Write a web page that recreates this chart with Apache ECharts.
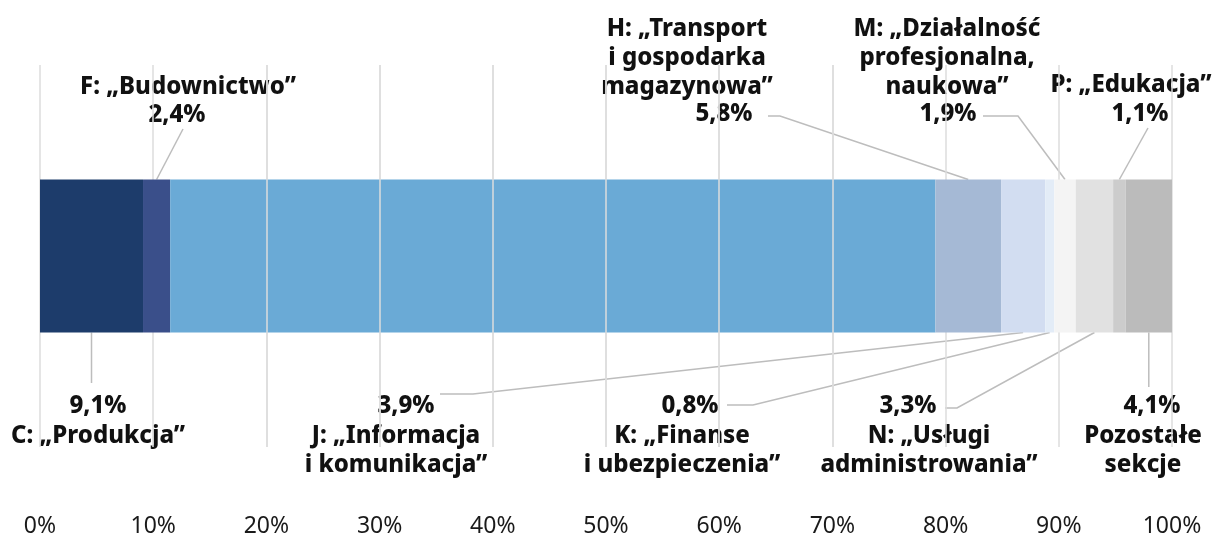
<!DOCTYPE html>
<html>
<head>
<meta charset="utf-8">
<script src="https://cdn.jsdelivr.net/npm/echarts@6/dist/echarts.min.js"></script>
<style>
  html, body { margin: 0; padding: 0; background: #fff; }
  #chart { width: 1212px; height: 538px; }
</style>
</head>
<body>
<div id="chart"></div>
<script>
// Sekcje PKD i ich udział (%)
const sections = [
    'C: „Produkcja”',
    'F: „Budownictwo”',
    'G: „Handel”',
    'H: „Transport\ni gospodarka\nmagazynowa”',
    'J: „Informacja\ni komunikacja”',
    'K: „Finanse\ni ubezpieczenia”',
    'M: „Działalność\nprofesjonalna,\nnaukowa”',
    'N: „Usługi\nadministrowania”',
    'P: „Edukacja”',
    'Pozostałe\nsekcje'
];
const shares = [9.1, 2.4, 67.6, 5.8, 3.9, 0.8, 1.9, 3.3, 1.1, 4.1];
const axisMin = 0;
const axisMax = 100;
const axisStep = 10;

const colors = ['#1d3c6b', '#3a4f8a', '#6aaad6', '#a5b9d5', '#d2ddf1',
                '#e3ecf7', '#f4f4f4', '#e1e1e1', '#cccccc', '#bbbbbb'];

// Rozmieszczenie podpisów (px): środek tytułu, środek wartości, punkty linii
const labelLayout = [
    { side: 'bottom', title: [98, 436],   value: [98, 406],   lead: 'v', leadEnd: 383 },
    { side: 'top',    title: [188, 87],   value: [177, 115],  lead: [[183, 129]] },
    { side: 'in',     title: [557, 237],  value: [575, 268],  lead: null },
    { side: 'top',    title: [687, 29],   value: [724, 114],  lead: [[768, 116], [780, 116]] },
    { side: 'bottom', title: [396, 436],  value: [406, 406],  lead: [[440, 394], [473, 394]] },
    { side: 'bottom', title: [682, 436],  value: [690, 406],  lead: [[727, 405], [753, 405]] },
    { side: 'top',    title: [947, 29],   value: [948, 114],  lead: [[983, 116], [1018, 116]] },
    { side: 'bottom', title: [929, 436],  value: [908, 406],  lead: [[945, 408], [957, 408]] },
    { side: 'top',    title: [1131, 85],  value: [1140, 114], lead: [[1148, 128]] },
    { side: 'bottom', title: [1143, 436], value: [1152, 406], lead: 'v', leadEnd: 387 }
];

const FONT = '"Noto Sans", "DejaVu Sans", sans-serif';
const BAR_W = 153;
const LINE_H = 29;

const chart = echarts.init(document.getElementById('chart'), null, { renderer: 'canvas' });

const fmt = v => v.toFixed(1).replace('.', ',') + '%';

// linie siatki widoczne na segmencie „Handel”
const gStart = shares.slice(0, 2).reduce((a, b) => a + b, 0);
const gEnd = gStart + shares[2];
const innerTicks = [];
for (let t = axisMin; t <= axisMax; t += axisStep) {
    if (t > gStart && t < gEnd) innerTicks.push({ xAxis: t });
}

const series = shares.map((v, i) => ({
    name: sections[i],
    type: 'bar',
    stack: 'total',
    barWidth: BAR_W,
    data: [v],
    itemStyle: { color: colors[i] },
    emphasis: { disabled: true },
    silent: true,
    markLine: i === 2 ? {
        silent: true,
        symbol: 'none',
        label: { show: false },
        lineStyle: { color: '#dddddd', width: 1.5, type: 'solid' },
        data: innerTicks
    } : undefined
}));

chart.setOption({
    animation: false,
    backgroundColor: '#ffffff',
    grid: { left: 40, right: 40, top: 65, bottom: 91, containLabel: false, outerBoundsMode: 'none' },
    xAxis: {
        type: 'value',
        min: axisMin,
        max: axisMax,
        interval: axisStep,
        z: 1,
        axisLine: { show: false },
        axisTick: { show: false },
        splitLine: { show: true, lineStyle: { color: '#dddddd', width: 1.5 } },
        axisLabel: {
            formatter: '{value}%',
            margin: 68,
            fontFamily: FONT,
            fontSize: 23,
            lineHeight: 23,
            color: '#1a1a1a'
        }
    },
    yAxis: {
        type: 'category',
        data: [''],
        show: false
    },
    series: series
});

// Podpisy i linie odniesienia
function drawLabels() {
    const yc = chart.convertToPixel({ gridIndex: 0 }, [0, 0])[1];
    const top = yc - BAR_W / 2;
    const bottom = yc + BAR_W / 2;
    const elements = [];
    let cum = 0;
    shares.forEach((v, i) => {
        const mid = chart.convertToPixel({ gridIndex: 0 }, [cum + v / 2, 0])[0];
        cum += v;
        const lay = labelLayout[i];

        const textStyle = {
            align: 'center',
            verticalAlign: 'top',
            lineHeight: LINE_H,
            fontFamily: FONT,
            fontSize: 24,
            fontWeight: 800,
            fill: '#111'
        };
        elements.push({
            type: 'text',
            silent: true,
            style: Object.assign({
                text: sections[i],
                x: lay.title[0],
                y: lay.title[1] - LINE_H / 2
            }, textStyle)
        });
        elements.push({
            type: 'text',
            silent: true,
            style: Object.assign({
                text: fmt(v),
                x: lay.value[0],
                y: lay.value[1] - LINE_H / 2
            }, textStyle)
        });

        if (!lay.lead) return;
        const edge = lay.side === 'top' ? top : bottom;
        let pts;
        if (lay.lead === 'v') {
            pts = [[mid, lay.leadEnd], [mid, edge]];
        } else {
            pts = lay.lead.concat([[mid, edge]]);
        }
        elements.push({
            type: 'polyline',
            silent: true,
            shape: { points: pts },
            style: { stroke: '#bdbdbd', lineWidth: 1.5, fill: null }
        });
    });
    chart.setOption({ graphic: { z: 0, elements: elements } });
}

drawLabels();
</script>
</body>
</html>
